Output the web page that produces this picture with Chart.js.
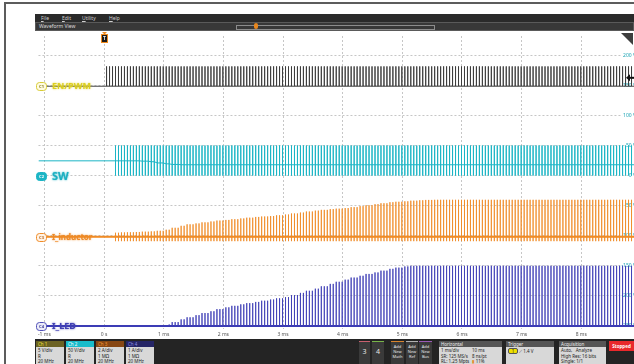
<!DOCTYPE html>
<html>
<head>
<meta charset="utf-8">
<script src="https://cdn.jsdelivr.net/npm/chart.js@4.4.1/dist/chart.umd.min.js"></script>
<style>
  html, body { margin: 0; padding: 0; width: 634px; height: 364px; overflow: hidden; background: #fff; font-family: "Noto Sans", "DejaVu Sans", sans-serif; }
  #frame { position: absolute; left: 4px; top: 2px; width: 640px; height: 370px; border-top: 2px solid #5c5c5c; border-left: 2px solid #5c5c5c; }
  #menu { position: absolute; left: 35px; top: 14px; width: 599px; height: 8px; background: #2a2a2a; color: #cfcfcf; font-size: 5px; line-height: 8px; }
  #menu span { position: absolute; top: 0; }
  #menu u { text-decoration: underline; }
  #wview { position: absolute; left: 35px; top: 22px; width: 597px; height: 7px; background: #383838; border: 1px solid #5a5a5a; color: #dedede; font-size: 5px; line-height: 7px; }
  #slider { position: absolute; left: 200px; top: 2px; width: 197px; height: 3px; border: 1px solid #8c8c8c; }
  #knob { position: absolute; left: 218px; top: 0px; width: 4px; height: 6px; background: #e8871e; border-radius: 2px; }
  #plot { position: absolute; left: 35px; top: 31px; }
  #panel { position: absolute; left: 35px; top: 339px; width: 599px; height: 25px; background: #242424; font-size: 4.5px; color: #222; }
  .box { position: absolute; top: 2px; height: 25px; }
  .hd { height: 6px; line-height: 6px; padding-left: 2px; font-size: 4.5px; }
  .bd { background: #d8d8d8; height: 19px; padding: 1px 2px; line-height: 5.5px; }
  .btn { position: absolute; top: 2px; height: 23px; background: #3a3a3a; color: #e6e6e6; text-align: center; }
  .num { font-size: 7px; line-height: 20px; }
  .add { font-size: 4px; line-height: 5px; padding-top: 2px; }
  .col { position: absolute; }
</style>
</head>
<body>
<div id="frame"></div>
<div id="menu">
  <span style="left:6px"><u>F</u>ile</span>
  <span style="left:27px"><u>E</u>dit</span>
  <span style="left:47px"><u>U</u>tility</span>
  <span style="left:74px"><u>H</u>elp</span>
</div>
<div id="wview">
  <span style="position:absolute;left:3px">Waveform View</span>
  <div id="slider"></div>
  <div id="knob"></div>
</div>
<canvas id="plot" width="599" height="308"></canvas>
<div id="panel">
  <div class="box" style="left:1px;width:28px"><div class="hd" style="background:#6b6224;color:#efe03a">Ch 1</div><div class="bd">5 V/div<br>R<br>20 MHz</div></div>
  <div class="box" style="left:31px;width:28px"><div class="hd" style="background:#19bccb;color:#fff">Ch 2</div><div class="bd">50 V/div<br>R<br>20 MHz</div></div>
  <div class="box" style="left:61px;width:28px"><div class="hd" style="background:#874714;color:#f59a3a">Ch 3</div><div class="bd">2 A/div<br>1 MΩ<br>20 MHz</div></div>
  <div class="box" style="left:91px;width:28px"><div class="hd" style="background:#252566;color:#8f8fe6">Ch 4</div><div class="bd">1 A/div<br>1 MΩ<br>20 MHz</div></div>
  <div class="btn num" style="left:324px;width:11px;border-top:1px solid #c8606e">3</div>
  <div class="btn num" style="left:337px;width:12px;border-top:1px solid #78b548">4</div>
  <div class="btn add" style="left:356px;width:13px;border-top:1px solid #d8832c">Add<br>New<br>Math</div>
  <div class="btn add" style="left:371px;width:12px;border-top:1px solid #b0b0b0">Add<br>New<br>Ref</div>
  <div class="btn add" style="left:384px;width:13px;border-top:1px solid #9b59b6">Add<br>New<br>Bus</div>
  <div class="box" style="left:404px;width:63px"><div class="hd" style="background:#555;color:#eee">Horizontal</div>
    <div class="bd" style="position:relative">1 ms/div<br>SR: 125 MS/s<br>RL: 1.25 Mpts
      <div class="col" style="left:33px;top:1px">10 ms<br>8 ns/pt<br><span style="color:#e8871e">▮</span> 11%</div></div></div>
  <div class="box" style="left:471px;width:48px"><div class="hd" style="background:#555;color:#eee">Trigger</div>
    <div class="bd"><span style="display:inline-block;background:#efe000;border:1px solid #555;border-radius:2px;width:8px;text-align:center;line-height:4px">1</span> ⟋ 1.4 V</div></div>
  <div class="box" style="left:524px;width:47px"><div class="hd" style="background:#555;color:#eee">Acquisition</div>
    <div class="bd">Auto, &nbsp; Analyze<br>High Res: 16 bits<br>Single: 1/1</div></div>
  <div style="position:absolute;left:574px;top:2px;width:25px;height:10px;background:#e9282b;color:#fff;font-weight:bold;font-size:4.5px;line-height:10px;text-align:center">Stopped</div>
</div>
<script>
// horizontal: 1 ms/div, vertical: shared graticule in divisions (SW scale labels at right)
const xMin = -1.1;
const xMax = 8.8833;
const xTickMs = [-1, 0, 1, 2, 3, 4, 5, 6, 7, 8];
const xTickLabels = ['-1 ms', '0 s', '1 ms', '2 ms', '3 ms', '4 ms', '5 ms', '6 ms', '7 ms', '8 ms'];
const yMinDiv = -5.1;
const yMaxDiv = 4.64;
const yTickDiv = [-5, -4, -3, -2, -1, 0, 1, 2, 3, 4];
const yTickLabels = ['-250 V', '-200 V', '-150 V', '-100 V', '-50 V', '0 V', '50 V', '100 V', '150 V', '200 V'];

// channels
const channelNames = ['EN/PWM', 'SW', 'I_inductor', 'I_LED'];
const channelTags = ['C1', 'C2', 'C3', 'C4'];
const unitsPerDiv = [5, 50, 2, 1];
const groundDiv = [2.97, 0, -2.03, -5];
const idleLevel = [0, 24.5, 0, 0];
const startMs = [0.04, 0.15, 0.15, 1.05];
const triggerLevelV = 1.4;

// switching pulses, one every 50 us
const firstPulseMs = 0.0417;
const periodMs = 0.05;

// soft-start envelope every 1/8 ms; the last entry holds afterwards
const rampMs = [0, 0.125, 0.25, 0.375, 0.5, 0.625, 0.75, 0.875, 1, 1.125, 1.25, 1.375, 1.5, 1.625, 1.75,
                1.875, 2, 2.125, 2.25, 2.375, 2.5, 2.625, 2.75, 2.875, 3, 3.125, 3.25, 3.375, 3.5, 3.625,
                3.75, 3.875, 4, 4.125, 4.25, 4.375, 4.5, 4.625, 4.75, 4.875, 5, 5.125, 5.25, 5.375, 5.5];
const enHighV = 3.3;
const swHighV = 50;
const swLowV = 0;
const swBaseV = [24.5, 24.5, 24.5, 24.5, 24.5, 24, 23, 21, 19.5, 18.5, 18, 18, 18, 18, 18,
                 18, 18, 18, 18, 18, 18, 18, 18, 18, 18, 18, 18, 18, 18, 18,
                 18, 18, 18, 18, 18, 18, 18, 18, 18, 18, 18, 18, 18, 18, 18];
const ilPeakA = [0.26, 0.26, 0.28, 0.29, 0.31, 0.33, 0.35, 0.39, 0.46, 0.59, 0.72, 0.82, 0.88, 0.95, 1.01,
                 1.07, 1.11, 1.16, 1.21, 1.26, 1.31, 1.34, 1.37, 1.42, 1.47, 1.54, 1.6, 1.67, 1.73, 1.78,
                 1.83, 1.86, 1.9, 1.96, 2.03, 2.09, 2.16, 2.22, 2.29, 2.32, 2.35, 2.39, 2.42, 2.44, 2.45];
const ilValleyA = -0.3;
const ledPeakA = [0, 0, 0, 0, 0, 0, 0, 0, 0.05, 0.13, 0.22, 0.29, 0.36, 0.43, 0.49,
                  0.56, 0.62, 0.67, 0.72, 0.76, 0.8, 0.84, 0.88, 0.92, 0.96, 1.03, 1.1, 1.17, 1.24, 1.32,
                  1.4, 1.47, 1.54, 1.61, 1.67, 1.73, 1.78, 1.84, 1.9, 1.94, 1.98, 2, 2, 2, 2];

function toDiv(ch, v) {
    return groundDiv[ch] + v / unitsPerDiv[ch];
}

function segIndex(t) {
    let i = 0;
    while (i + 1 < rampMs.length && rampMs[i + 1] <= t) i++;
    return i;
}

// levels(i) returns [base, peak, valley] for the ramp step
function buildTrace(ch, levels) {
    const pts = [{ x: xMin, y: toDiv(ch, idleLevel[ch]) }];
    for (let k = 0; ; k++) {
        const t = firstPulseMs + k * periodMs;
        if (t > xMax) break;
        if (t < startMs[ch]) continue;
        const [base, peak, valley] = levels(segIndex(t));
        pts.push({ x: t, y: toDiv(ch, base) }, { x: t, y: toDiv(ch, peak) },
                 { x: t, y: toDiv(ch, valley) }, { x: t, y: toDiv(ch, base) });
    }
    pts.push({ x: xMax, y: pts[pts.length - 1].y });
    return pts;
}

const traces = [
    buildTrace(0, () => [0, enHighV, 0]),
    buildTrace(1, i => [swBaseV[i], swHighV, swLowV]),
    buildTrace(2, i => [0, ilPeakA[i], ilValleyA]),
    buildTrace(3, i => [0, ledPeakA[i], 0])
];

const traceColors = ['rgba(60,60,60,0.95)', '#1cb5c5', 'rgba(240,140,40,0.85)', 'rgba(64,64,182,0.88)'];
const baseColors = ['#333333', '#1cb5c5', '#f08a22', '#3a3ab4'];
const badgeStyles = [
    { fill: '#fffbe2', stroke: '#d8cc36', text: '#8a8020' },
    { fill: '#1cb5c5', stroke: '#1cb5c5', text: '#ffffff' },
    { fill: '#fff3e6', stroke: '#f08c28', text: '#b8661a' },
    { fill: '#ececf8', stroke: '#5050b8', text: '#3a3a9a' }
];
const labelStyles = [
    { color: '#dccf22', size: 9 },
    { color: '#1cb0c2', size: 11 },
    { color: '#ee8a26', size: 8 },
    { color: '#4040b4', size: 9 }
];

const scopeMarks = {
    id: 'scopeMarks',
    afterDatasetsDraw(chart) {
        const { ctx, scales: { x, y } } = chart;
        ctx.save();

        // ground markers and channel names
        channelNames.forEach((name, ch) => {
            const py = Math.round(y.getPixelForValue(groundDiv[ch])) + 0.5;
            const b = badgeStyles[ch];
            ctx.beginPath();
            ctx.roundRect(1.5, py - 4, 10, 8, 3);
            ctx.fillStyle = b.fill;
            ctx.fill();
            ctx.strokeStyle = b.stroke;
            ctx.lineWidth = 1;
            ctx.stroke();
            ctx.fillStyle = b.text;
            ctx.font = 'bold 4px "Noto Sans"';
            ctx.textAlign = 'center';
            ctx.textBaseline = 'middle';
            ctx.fillText(channelTags[ch], 6.5, py);

            const l = labelStyles[ch];
            ctx.font = 'bold ' + l.size + 'px "Noto Sans"';
            ctx.textAlign = 'left';
            ctx.fillStyle = l.color;
            ctx.shadowColor = l.color;
            ctx.shadowBlur = 2;
            ctx.fillText(name, 17, py);
            ctx.shadowBlur = 0;
        });

        // trigger position marker
        const tx = Math.round(x.getPixelForValue(0)) + 0.5;
        ctx.fillStyle = '#f08a1c';
        ctx.beginPath();
        ctx.moveTo(tx - 2.5, 1);
        ctx.lineTo(tx + 2.5, 1);
        ctx.lineTo(tx, 3.5);
        ctx.fill();
        ctx.fillRect(tx - 3.5, 3, 7, 9);
        ctx.fillStyle = '#1a1a1a';
        ctx.fillRect(tx - 2.5, 4, 5, 7);
        ctx.fillStyle = '#f0f0f0';
        ctx.font = 'bold 5px "Noto Sans"';
        ctx.textAlign = 'center';
        ctx.fillText('T', tx, 7.8);

        // trigger level arrow on ch1
        const ly = y.getPixelForValue(toDiv(0, triggerLevelV));
        const r = chart.chartArea.right;
        ctx.fillStyle = '#111';
        ctx.beginPath();
        ctx.moveTo(r - 8, ly);
        ctx.lineTo(r - 4, ly - 3.5);
        ctx.lineTo(r - 4, ly + 3.5);
        ctx.fill();
        ctx.fillRect(r - 4, ly - 1, 4, 2);

        // corner badge
        ctx.fillStyle = '#3e3e3e';
        ctx.beginPath();
        ctx.moveTo(r - 13, 2);
        ctx.lineTo(r - 1, 2);
        ctx.lineTo(r - 1, 14);
        ctx.fill();
        ctx.restore();
    }
};

const gridStyle = { color: '#c6c6c6', lineWidth: 1, drawTicks: false };
const borderStyle = { display: false, dash: [2, 2] };

// ground reference lines under the current traces (drawn a bit heavier, as on screen)
const baselines = [2, 3].map(ch => ({
    label: channelNames[ch] + ' base',
    data: [{ x: xMin, y: toDiv(ch, 0) }, { x: xMax, y: toDiv(ch, 0) }],
    borderColor: baseColors[ch],
    borderWidth: 2,
    pointRadius: 0
}));

new Chart(document.getElementById('plot'), {
    type: 'line',
    data: {
        datasets: traces.map((pts, ch) => ({
            label: channelNames[ch],
            data: pts,
            borderColor: traceColors[ch],
            borderWidth: 1,
            pointRadius: 0,
            tension: 0,
            borderJoinStyle: 'bevel',
            fill: false
        })).concat(baselines)
    },
    options: {
        responsive: false,
        animation: false,
        devicePixelRatio: 1,
        events: [],
        parsing: false,
        layout: { padding: 0, autoPadding: false },
        plugins: { legend: { display: false }, tooltip: { enabled: false } },
        scales: {
            x: {
                type: 'linear',
                min: xMin,
                max: xMax,
                afterBuildTicks: s => { s.ticks = xTickMs.map(v => ({ value: v })); },
                afterFit: s => { s.height = 10; },
                grid: gridStyle,
                border: borderStyle,
                ticks: {
                    padding: 3,
                    color: '#555',
                    maxRotation: 0,
                    autoSkip: false,
                    font: { size: 5, family: 'Noto Sans' },
                    callback: (v, i) => xTickLabels[i]
                }
            },
            y: {
                type: 'linear',
                position: 'right',
                min: yMinDiv,
                max: yMaxDiv,
                afterBuildTicks: s => { s.ticks = yTickDiv.map(v => ({ value: v })); },
                afterFit: s => { s.width = 0; },
                grid: gridStyle,
                border: borderStyle,
                ticks: {
                    mirror: true,
                    padding: 2,
                    color: '#1aa3b4',
                    font: { size: 5, family: 'Noto Sans' },
                    showLabelBackdrop: true,
                    backdropColor: '#ffffff',
                    backdropPadding: 1,
                    callback: (v, i) => yTickLabels[i]
                }
            }
        }
    },
    plugins: [scopeMarks]
});
</script>
</body>
</html>
